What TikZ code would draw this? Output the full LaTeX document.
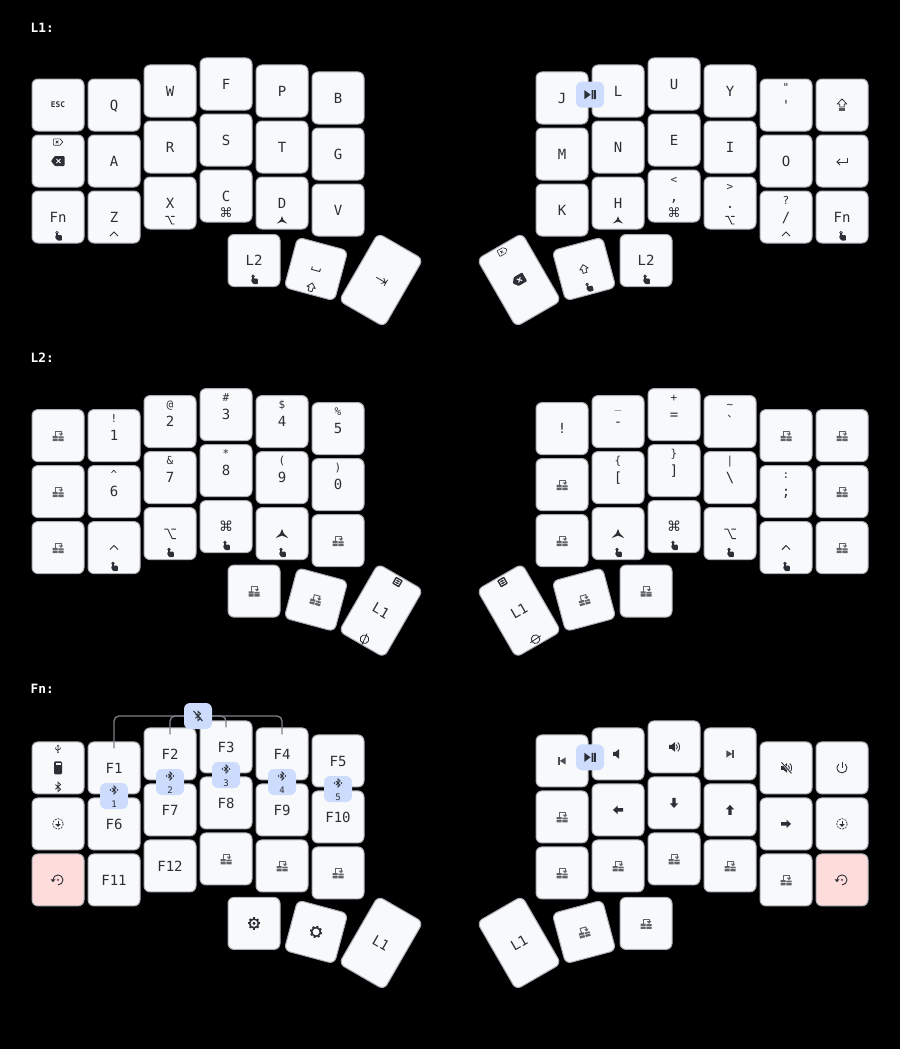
\documentclass[tikz,border=0pt]{standalone}
\usepackage{fontspec}
\usetikzlibrary{calc}
\newfontfamily\keyfont{DejaVu Sans Mono}
\newfontfamily\signfont{DejaVu Sans}
\definecolor{ink}{HTML}{2B2F36}
\definecolor{keyface}{HTML}{F8F9FB}
\definecolor{keyedge}{HTML}{ABAFB5}
\definecolor{comboface}{HTML}{CDDCFD}
\definecolor{resetface}{HTML}{FFDCDC}
\definecolor{comboline}{HTML}{7D8187}

\newcommand{\kc}[5]{%
  \node[keycap, rotate=#4] (#1) at (#2,#3) {#5};
  \coordinate (#1t) at ($(#1.center)!17pt!(#1.north)$);
  \coordinate (#1b) at ($(#1.center)!17pt!(#1.south)$);}
\newcommand{\tk}[5]{%
  \node[keycap, minimum height=78pt, rotate=#4] (#1) at (#2,#3) {#5};
  \coordinate (#1t) at ($(#1.center)!33pt!(#1.north)$);
  \coordinate (#1b) at ($(#1.center)!33pt!(#1.south)$);}
\newcommand{\sh}[2]{\node[legend] (#1s) at (#1t) {#2};}
\newcommand{\hd}[2]{\node[legend] (#1h) at (#1b) {#2};}
\newcommand{\tr}[1]{\pic at (#1) {transicon};}
\newcommand{\hand}[1]{\pic at (#1b) {handicon};}
\newcommand{\cmdhold}{\signfont\fontsize{13}{13}\selectfont ⌘}
\newcommand{\btcombo}[4]{%
  \node[combo] (#1) at (#2,#3) {};
  \pic at ($(#1.center)+(0,-6)$) {btdots};
  \node[digit] (#1d) at ($(#1.center)+(0,8)$) {#4};}

\tikzset{
  pics/handicon/.style={code={
    \draw[ink, line width=.7pt] (-1,-1.3) circle (1.3);
    \fill[ink] (-1.7,-1.3) rectangle (-.3,2.5);
    \fill[ink, rounded corners=.8pt] (-1.7,.8) -- (3.8,1.2) -- (3.8,6.5) -- (-.7,6.5) -- (-3,3) -- cycle;}},
  pics/chevronicon/.style={code={
    \draw[ink, line width=.9pt] (-4,2) -- (0,-2) -- (4,2);}},
  pics/metaicon/.style={code={
    \fill[ink] (0,-3.8) -- (1.4,-.2) -- (5,3.5) -- (0,1.6) -- (-5,3.5) -- (-1.4,-.2) -- cycle;}},
  pics/optionicon/.style={code={
    \draw[ink, line width=.9pt] (-4.6,-3.6) -- (-1.8,-3.6) -- (1.8,4) -- (4.6,4) (1,-3.6) -- (4.6,-3.6);}},
  pics/bkspicon/.style={code={
    \fill[ink, rounded corners=.8pt] (-7,0) -- (-3.2,-5) -- (6.5,-5) -- (6.5,5) -- (-3.2,5) -- cycle;
    \draw[keyface, line width=1pt] (-1.5,-2) -- (2.5,2) (2.5,-2) -- (-1.5,2);}},
  pics/delicon/.style={code={
    \draw[ink, line width=.6pt, rounded corners=.5pt] (-4.6,-3.2) -- (2,-3.2) -- (4.8,0) -- (2,3.2) -- (-4.6,3.2) -- cycle;
    \draw[ink, line width=.6pt] (-2.2,-1.3) -- (.4,1.3) (.4,-1.3) -- (-2.2,1.3);}},
  pics/shifticon/.style={code={
    \draw[ink, line width=.8pt, line join=round] (0,-4.5) -- (4.3,0) -- (2,0) -- (2,4) -- (-2,4) -- (-2,0) -- (-4.3,0) -- cycle;}},
  pics/capsicon/.style={code={
    \draw[ink, line width=.8pt, line join=round] (0,-6) -- (4.8,-1) -- (2.2,-1) -- (2.2,2) -- (-2.2,2) -- (-2.2,-1) -- (-4.8,-1) -- cycle;
    \fill[ink!80] (-2.6,3.2) rectangle (2.6,6);}},
  pics/entericon/.style={code={
    \draw[ink, line width=.9pt] (5.5,-3.2) -- (5.5,1) -- (-5,1);
    \draw[ink, line width=.9pt] (-2,-2) -- (-5,1) -- (-2,4);}},
  pics/tabicon/.style={code={
    \draw[ink, line width=.8pt] (-5.5,0) -- (5,0) (1.5,-3) -- (5,0) -- (1.5,3) (5.6,-3.5) -- (5.6,3.5);}},
  pics/spaceicon/.style={code={
    \draw[ink, line width=.9pt] (-4.2,-1.5) -- (-4.2,1.5) -- (4.2,1.5) -- (4.2,-1.5);}},
  pics/transicon/.style={code={
    \fill[ink!75] (-5.5,.2) rectangle (-.4,2.4) (.4,.8) rectangle (5.5,2.4);
    \fill[ink!75] (-5.5,3.1) rectangle (-.4,5.4) (.4,3.1) rectangle (5.5,5.4);
    \draw[ink!75, line width=1pt] (-2.8,.6) -- (-2.8,-4.3) -- (3,-4.3) -- (3,-1.5);
    \fill[ink!75] (.8,-2.2) -- (5.2,-2.2) -- (3,.4) -- cycle;}},
  pics/layericon/.style={code={
    \fill[ink, rounded corners=.8pt] (-4,-4) rectangle (4,4);
    \draw[keyface, line width=.6pt] (-2.2,-2.2) rectangle (2.2,2.2) (-2.2,0) -- (2.2,0);}},
  pics/noneicon/.style={code={
    \draw[ink, line width=.8pt] (0,0) circle (4.3) (0,-6.2) -- (0,6.2);}},
  pics/btrune/.style={code={
    \draw[ink, line width=.8pt] (-2.6,-2.3) -- (2.6,2.3) -- (0,4.7) -- (0,-4.7) -- (2.6,-2.3) -- (-2.6,2.3);}},
  pics/btdots/.style={code={
    \draw[ink, line width=.7pt] (-2.2,-2) -- (2.2,2) -- (0,4.2) -- (0,-4.2) -- (2.2,-2) -- (-2.2,2);
    \fill[ink] (-3.5,0) circle (.8) (3.5,0) circle (.8);}},
  pics/btclear/.style={code={
    \draw[ink, line width=.9pt] (-2.6,-2.3) -- (2.6,2.3) -- (0,4.7) -- (0,-4.7) -- (2.6,-2.3) -- (-2.6,2.3);
    \draw[ink, line width=1pt] (-4.5,-5) -- (4.5,5);}},
  pics/usbicon/.style={code={
    \draw[ink, line width=.7pt] (0,-3) -- (0,3.5) (-2.3,-1.5) -- (-2.3,.2) -- (0,1.8) (2.3,-1.5) -- (2.3,0) -- (0,1);
    \fill[ink] (-1.3,-2.6) -- (0,-4.3) -- (1.3,-2.6) -- cycle (0,3.5) circle (.8);}},
  pics/batticon/.style={code={
    \fill[ink, rounded corners=1.2pt] (-4,-6.5) rectangle (4,6.5);
    \fill[keyface] (-2.5,-4.6) rectangle (2.5,-2.8);}},
  pics/booticon/.style={code={
    \draw[ink, line width=.7pt, dash pattern=on 1.9pt off 1.1pt] (0,0) circle (5.3);
    \draw[ink, line width=.9pt] (0,-2.6) -- (0,.8);
    \fill[ink] (-2.6,.3) -- (2.6,.3) -- (0,3) -- cycle;}},
  pics/reseticon/.style={code={
    \draw[ink, line width=.9pt] (-5,0) arc[start angle=180, delta angle=270, radius=5];
    \fill[ink] (-7.5,-.6) -- (-2.5,-.6) -- (-5,2.2) -- cycle (0,0) circle (1);}},
  pics/sunicon/.style={code={
    \draw[ink, line width=1.6pt] (0,0) circle (4.4);
    \foreach \a in {0,45,...,315} \draw[ink, line width=2pt] (\a:4.4) -- (\a:6.1);}},
  pics/gearicon/.style={code={
    \draw[ink, line width=1.6pt] (0,0) circle (4.4);
    \foreach \a in {0,45,...,315} \draw[ink, line width=2pt] (\a:4.4) -- (\a:6.1);
    \fill[ink] (0,0) circle (1.7);}},
  pics/playicon/.style={code={
    \fill[ink] (-5.6,-4.5) -- (.6,0) -- (-5.6,4.5) -- cycle;
    \fill[ink] (1.6,-4.5) rectangle (3.3,4.5) (4.1,-4.5) rectangle (5.8,4.5);}},
  pics/skipicon/.style={code={
    \fill[ink!85] (-3.6,-3.6) rectangle (-2.4,3.6);
    \fill[ink!85] (3.6,-3.6) -- (-2.2,0) -- (3.6,3.6) -- cycle;}},
  pics/speakericon/.style={code={
    \fill[ink] (-5,-2) -- (-2.5,-2) -- (1,-4.8) -- (1,4.8) -- (-2.5,2) -- (-5,2) -- cycle;}},
  pics/louddicon/.style={code={
    \fill[ink] (-5,-2) -- (-2.5,-2) -- (1,-4.8) -- (1,4.8) -- (-2.5,2) -- (-5,2) -- cycle;
    \draw[ink, line width=.9pt] (2.4,-2.4) .. controls (3.6,-1) and (3.6,1) .. (2.4,2.4);
    \draw[ink, line width=.9pt] (3.8,-4.4) .. controls (6.2,-2) and (6.2,2) .. (3.8,4.4);}},
  pics/muteicon/.style={code={
    \fill[ink] (-5,-2) -- (-2.5,-2) -- (1,-4.8) -- (1,4.8) -- (-2.5,2) -- (-5,2) -- cycle;
    \draw[ink, line width=.9pt] (2.4,-2.4) .. controls (3.6,-1) and (3.6,1) .. (2.4,2.4);
    \draw[ink, line width=.9pt] (3.8,-4.4) .. controls (6.2,-2) and (6.2,2) .. (3.8,4.4);
    \draw[keyface, line width=2pt] (-4.5,-5.5) -- (5.5,5.5);
    \draw[ink, line width=.9pt] (-4.5,-5.5) -- (5.5,5.5);}},
  pics/powericon/.style={code={
    \draw[ink, line width=.9pt] (-50:5) arc[start angle=-50, delta angle=280, radius=5];
    \draw[ink, line width=.9pt] (0,-6) -- (0,0);}},
  pics/arrowicon/.style={code={
    \fill[ink] (-5,0) -- (-.5,-4.2) -- (-.5,-1.7) -- (5,-1.7) -- (5,1.7) -- (-.5,1.7) -- (-.5,4.2) -- cycle;}},
}

\begin{document}
\begin{tikzpicture}[x=1pt, y=-1pt]
\tikzstyle{keycap} = [rectangle, rounded corners=6pt, draw=keyedge, line width=1pt, fill=keyface, text=ink, inner sep=0pt, minimum width=52pt, minimum height=52pt, font=\keyfont\fontsize{14}{14}\selectfont, text height=10.2pt, text depth=0pt]
\tikzstyle{reset key} = [fill=resetface]
\tikzstyle{legend} = [inner sep=0pt, text=ink, font=\keyfont\fontsize{11}{11}\selectfont, text height=8pt, text depth=0pt]
\tikzstyle{combo} = [rectangle, rounded corners=6pt, fill=comboface, minimum width=28pt, minimum height=26pt, inner sep=0pt]
\tikzstyle{digit} = [inner sep=0pt, text=ink, font=\keyfont\fontsize{9}{9}\selectfont, text height=6.5pt, text depth=0pt]
\tikzstyle{layer title} = [anchor=west, inner sep=0pt, text=white, font=\keyfont\bfseries\fontsize{12.8}{14}\selectfont]
\tikzstyle{combo link} = [draw=comboline, line width=1.3pt, rounded corners=5pt]

\fill[black] (0,0) rectangle (900,1049);

\node[layer title] (titleA) at (30.5,28) {L1:};
\node[layer title] (titleB) at (30.5,358) {L2:};
\node[layer title] (titleC) at (30.5,689) {Fn:};

\kc{aL11}{58}{105}{0}{}
\node[legend, font=\keyfont\bfseries\fontsize{7.8}{8}\selectfont, text height=5.7pt] (escA) at (aL11) {ESC};
\kc{aL12}{58}{161}{0}{}
\pic at (aL12) {bkspicon};
\pic at ($(aL12.center)!19pt!(aL12.north)$) {delicon};
\kc{aL13}{58}{217}{0}{Fn}
\hand{aL13}
\kc{aL21}{114}{105}{0}{Q}
\kc{aL22}{114}{161}{0}{A}
\kc{aL23}{114}{217}{0}{Z}
\pic at (aL23b) {chevronicon};
\kc{aL31}{170}{91}{0}{W}
\kc{aL32}{170}{147}{0}{R}
\kc{aL33}{170}{203}{0}{X}
\pic at (aL33b) {optionicon};
\kc{aL41}{226}{84}{0}{F}
\kc{aL42}{226}{140}{0}{S}
\kc{aL43}{226}{196}{0}{C}
\hd{aL43}{\cmdhold}
\kc{aL51}{282}{91}{0}{P}
\kc{aL52}{282}{147}{0}{T}
\kc{aL53}{282}{203}{0}{D}
\pic at (aL53b) {metaicon};
\kc{aL61}{338}{98}{0}{B}
\kc{aL62}{338}{154}{0}{G}
\kc{aL63}{338}{210}{0}{V}
\kc{aLt1}{254}{260.5}{0}{L2}
\hand{aLt1}
\kc{aLt2}{316}{269}{-15}{}
\pic[rotate=-15] at (aLt2) {spaceicon};
\pic[rotate=-15] at ($(aLt2.center)!19pt!(aLt2.south)$) {shifticon};
\tk{aLt3}{381}{280}{-30}{}
\pic[rotate=-30] at (aLt3) {tabicon};

\kc{aR11}{562}{98}{0}{J}
\kc{aR12}{562}{154}{0}{M}
\kc{aR13}{562}{210}{0}{K}
\kc{aR21}{618}{91}{0}{L}
\kc{aR22}{618}{147}{0}{N}
\kc{aR23}{618}{203}{0}{H}
\pic at (aR23b) {metaicon};
\kc{aR31}{674}{84}{0}{U}
\kc{aR32}{674}{140}{0}{E}
\kc{aR33}{674}{196}{0}{,}
\sh{aR33}{<}
\hd{aR33}{\cmdhold}
\kc{aR41}{730}{91}{0}{Y}
\kc{aR42}{730}{147}{0}{I}
\kc{aR43}{730}{203}{0}{.}
\sh{aR43}{>}
\pic at (aR43b) {optionicon};
\kc{aR51}{786}{105}{0}{'}
\sh{aR51}{"}
\kc{aR52}{786}{161}{0}{O}
\kc{aR53}{786}{217}{0}{/}
\sh{aR53}{?}
\pic at (aR53b) {chevronicon};
\kc{aR61}{842}{105}{0}{}
\pic at (aR61) {capsicon};
\kc{aR62}{842}{161}{0}{}
\pic at (aR62) {entericon};
\kc{aR63}{842}{217}{0}{Fn}
\hand{aR63}
\kc{aRt1}{646}{260.5}{0}{L2}
\hand{aRt1}
\kc{aRt2}{584}{269}{15}{}
\pic[rotate=15] at (aRt2) {shifticon};
\pic[rotate=15] at (aRt2b) {handicon};
\tk{aRt3}{519}{280}{30}{}
\pic[rotate=30] at (aRt3) {bkspicon};
\pic[rotate=30] at (aRt3t) {delicon};
\node[combo] (playA) at (590,94.7) {};
\pic at (playA) {playicon};

\begin{scope}[yshift=-330.6pt]
\kc{bL11}{58}{105}{0}{}
\tr{bL11}
\kc{bL12}{58}{161}{0}{}
\tr{bL12}
\kc{bL13}{58}{217}{0}{}
\tr{bL13}
\kc{bL21}{114}{105}{0}{1}
\sh{bL21}{!}
\kc{bL22}{114}{161}{0}{6}
\sh{bL22}{\textasciicircum}
\kc{bL23}{114}{217}{0}{}
\pic at (bL23) {chevronicon};
\hand{bL23}
\kc{bL31}{170}{91}{0}{2}
\sh{bL31}{@}
\kc{bL32}{170}{147}{0}{7}
\sh{bL32}{\&}
\kc{bL33}{170}{203}{0}{}
\pic[scale=1.25] at (bL33) {optionicon};
\hand{bL33}
\kc{bL41}{226}{84}{0}{3}
\sh{bL41}{\#}
\kc{bL42}{226}{140}{0}{8}
\sh{bL42}{*}
\kc{bL43}{226}{196}{0}{\signfont ⌘}
\hand{bL43}
\kc{bL51}{282}{91}{0}{4}
\sh{bL51}{\$}
\kc{bL52}{282}{147}{0}{9}
\sh{bL52}{(}
\kc{bL53}{282}{203}{0}{}
\pic[scale=1.25] at (bL53) {metaicon};
\hand{bL53}
\kc{bL61}{338}{98}{0}{5}
\sh{bL61}{\%}
\kc{bL62}{338}{154}{0}{0}
\sh{bL62}{)}
\kc{bL63}{338}{210}{0}{}
\tr{bL63}
\kc{bLt1}{254}{260.5}{0}{}
\tr{bLt1}
\kc{bLt2}{316}{269}{-15}{}
\pic[rotate=-15] at (bLt2) {transicon};
\tk{bLt3}{381}{280}{-30}{L1}
\pic[rotate=-30] at (bLt3t) {layericon};
\pic[rotate=-25] at (bLt3b) {noneicon};

\kc{bR11}{562}{98}{0}{!}
\kc{bR12}{562}{154}{0}{}
\tr{bR12}
\kc{bR13}{562}{210}{0}{}
\tr{bR13}
\kc{bR21}{618}{91}{0}{-}
\sh{bR21}{\_}
\kc{bR22}{618}{147}{0}{[}
\sh{bR22}{\{}
\kc{bR23}{618}{203}{0}{}
\pic[scale=1.25] at (bR23) {metaicon};
\hand{bR23}
\kc{bR31}{674}{84}{0}{=}
\sh{bR31}{+}
\kc{bR32}{674}{140}{0}{]}
\sh{bR32}{\}}
\kc{bR33}{674}{196}{0}{\signfont ⌘}
\hand{bR33}
\kc{bR41}{730}{91}{0}{`}
\sh{bR41}{\textasciitilde}
\kc{bR42}{730}{147}{0}{\textbackslash}
\sh{bR42}{|}
\kc{bR43}{730}{203}{0}{}
\pic[scale=1.25] at (bR43) {optionicon};
\hand{bR43}
\kc{bR51}{786}{105}{0}{}
\tr{bR51}
\kc{bR52}{786}{161}{0}{;}
\sh{bR52}{:}
\kc{bR53}{786}{217}{0}{}
\pic at (bR53) {chevronicon};
\hand{bR53}
\kc{bR61}{842}{105}{0}{}
\tr{bR61}
\kc{bR62}{842}{161}{0}{}
\tr{bR62}
\kc{bR63}{842}{217}{0}{}
\tr{bR63}
\kc{bRt1}{646}{260.5}{0}{}
\tr{bRt1}
\kc{bRt2}{584}{269}{15}{}
\pic[rotate=15] at (bRt2) {transicon};
\tk{bRt3}{519}{280}{30}{L1}
\pic[rotate=30] at (bRt3t) {layericon};
\pic[rotate=-57] at (bRt3b) {noneicon};
\end{scope}

\begin{scope}[yshift=-662.9pt]
\kc{cL11}{58}{105}{0}{}
\pic at ($(cL11.center)+(0,-19)$) {usbicon};
\pic at (cL11) {batticon};
\pic at ($(cL11.center)+(0,19)$) {btrune};
\kc{cL12}{58}{161}{0}{}
\pic at (cL12) {booticon};
\node[keycap, reset key] (cL13) at (58,217) {};
\pic at (cL13) {reseticon};
\kc{cL21}{114}{105}{0}{F1}
\kc{cL22}{114}{161}{0}{F6}
\kc{cL23}{114}{217}{0}{F11}
\kc{cL31}{170}{91}{0}{F2}
\kc{cL32}{170}{147}{0}{F7}
\kc{cL33}{170}{203}{0}{F12}
\kc{cL41}{226}{84}{0}{F3}
\kc{cL42}{226}{140}{0}{F8}
\kc{cL43}{226}{196}{0}{}
\tr{cL43}
\kc{cL51}{282}{91}{0}{F4}
\kc{cL52}{282}{147}{0}{F9}
\kc{cL53}{282}{203}{0}{}
\tr{cL53}
\kc{cL61}{338}{98}{0}{F5}
\kc{cL62}{338}{154}{0}{F10}
\kc{cL63}{338}{210}{0}{}
\tr{cL63}
\kc{cLt1}{254}{260.5}{0}{}
\pic at (cLt1) {gearicon};
\kc{cLt2}{316}{269}{-15}{}
\pic[rotate=-15] at (cLt2) {sunicon};
\tk{cLt3}{381}{280}{-30}{L1}

\kc{cR11}{562}{98}{0}{}
\pic at (cR11) {skipicon};
\kc{cR12}{562}{154}{0}{}
\tr{cR12}
\kc{cR13}{562}{210}{0}{}
\tr{cR13}
\kc{cR21}{618}{91}{0}{}
\pic at (cR21) {speakericon};
\kc{cR22}{618}{147}{0}{}
\pic at (cR22) {arrowicon};
\kc{cR23}{618}{203}{0}{}
\tr{cR23}
\kc{cR31}{674}{84}{0}{}
\pic at (cR31) {louddicon};
\kc{cR32}{674}{140}{0}{}
\pic[rotate=90] at (cR32) {arrowicon};
\kc{cR33}{674}{196}{0}{}
\tr{cR33}
\kc{cR41}{730}{91}{0}{}
\pic[rotate=180] at (cR41) {skipicon};
\kc{cR42}{730}{147}{0}{}
\pic[rotate=-90] at (cR42) {arrowicon};
\kc{cR43}{730}{203}{0}{}
\tr{cR43}
\kc{cR51}{786}{105}{0}{}
\pic at (cR51) {muteicon};
\kc{cR52}{786}{161}{0}{}
\pic[rotate=180] at (cR52) {arrowicon};
\kc{cR53}{786}{217}{0}{}
\tr{cR53}
\kc{cR61}{842}{105}{0}{}
\pic at (cR61) {powericon};
\kc{cR62}{842}{161}{0}{}
\pic at (cR62) {booticon};
\node[keycap, reset key] (cR63) at (842,217) {};
\pic at (cR63) {reseticon};
\kc{cRt1}{646}{260.5}{0}{}
\tr{cRt1}
\kc{cRt2}{584}{269}{15}{}
\pic[rotate=15] at (cRt2) {transicon};
\tk{cRt3}{519}{280}{30}{L1}

\btcombo{btA}{114}{133.1}{1}
\btcombo{btB}{170}{119.1}{2}
\btcombo{btC}{226}{112.1}{3}
\btcombo{btD}{282}{119.1}{4}
\btcombo{btE}{338}{126.1}{5}
\node[combo] (btClear) at (198,53.1) {};
\pic at (btClear) {btclear};
\node[combo] (playC) at (590,94.4) {};
\pic at (playC) {playicon};

\draw[combo link] (btClear.west) -| ([yshift=-7pt]cL21.north);
\draw[combo link] (btClear.west) -| ([yshift=-7pt]cL31.north);
\draw[combo link] (btClear.east) -| ([yshift=-7pt]cL41.north);
\draw[combo link] (btClear.east) -| ([yshift=-7pt]cL51.north);
\end{scope}
\end{tikzpicture}
\end{document}
